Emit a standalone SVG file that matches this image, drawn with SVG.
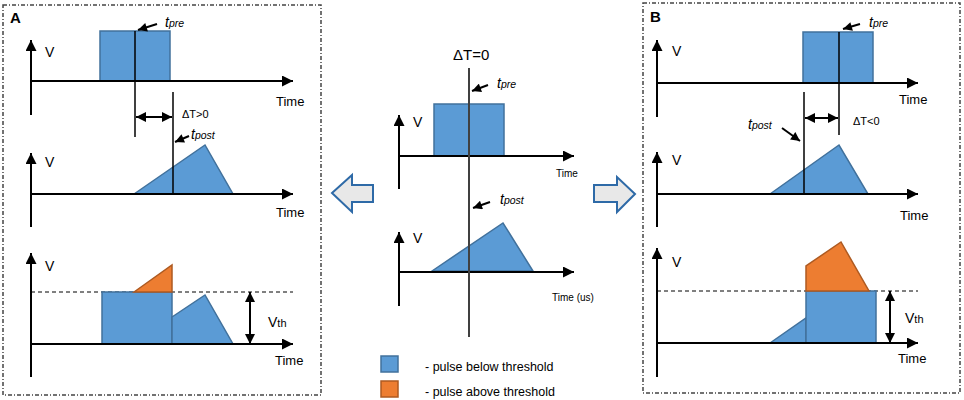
<svg xmlns="http://www.w3.org/2000/svg" width="964" height="400" viewBox="0 0 964 400">
<style>
text{font-family:"Liberation Sans",Arial,sans-serif;fill:#000}
.lbl{font-size:14px}
.time{font-size:13px}
.stime{font-size:10px}
.dt{font-size:11px}
.big{font-size:15px}
.pan{font-size:15px;font-weight:bold}
.it{font-style:italic;font-size:14px}
.sub{font-size:10.5px}
.leg{font-size:12.5px}
.ax{stroke:#000;stroke-width:2;fill:none;marker-end:url(#ah)}
.vl{stroke:#000;stroke-width:1.5}
.cl{stroke:#404040;stroke-width:2}
.da{stroke:#000;stroke-width:2;marker-start:url(#ahs);marker-end:url(#ahs)}
.pt{stroke:#000;stroke-width:2;marker-end:url(#ahp)}
.dash{stroke:#000;stroke-width:1;stroke-dasharray:4,3}
.blue{fill:#5b9bd5;stroke:#41719c;stroke-width:1.5}
.orange{fill:#ed7d31;stroke:#ae5a21;stroke-width:1.5}
.box{fill:none;stroke:#444;stroke-width:1.5;stroke-dasharray:4,2,1,2}
.bigarrow{fill:#e8e8e8;stroke:#2e6aa7;stroke-width:2}
</style>
<defs>
<marker id="ah" viewBox="0 0 10 10" refX="10" refY="5" markerWidth="11" markerHeight="11" markerUnits="userSpaceOnUse" orient="auto-start-reverse"><path d="M0,0 L10,5 L0,10 z" fill="#000"/></marker>
<marker id="ahs" viewBox="0 0 10 10" refX="10" refY="5" markerWidth="10" markerHeight="10" markerUnits="userSpaceOnUse" orient="auto-start-reverse"><path d="M0,0 L10,5 L0,10 z" fill="#000"/></marker>
<marker id="ahp" viewBox="0 0 10 10" refX="10" refY="5" markerWidth="10" markerHeight="9" markerUnits="userSpaceOnUse" orient="auto"><path d="M0,0 L10,5 L0,10 z" fill="#000"/></marker>
</defs>

<rect class="box" x="3" y="5" width="318" height="390"/>
<rect class="box" x="643" y="3" width="317" height="390"/>

<!-- Panel A -->
<g id="panelA">
<text class="pan" x="10" y="23">A</text>
<g id="A-top">
<rect class="blue" x="100" y="31" width="70" height="50"/>
<line class="ax" x1="31" y1="115" x2="31" y2="40"/>
<line class="ax" x1="31" y1="81" x2="293" y2="81"/>
<text class="lbl" x="45" y="57">V</text>
<text class="time" x="276" y="106">Time</text>
<line class="vl" x1="135" y1="31" x2="135" y2="137"/>
<text x="165" y="27"><tspan class="it">t</tspan><tspan class="it sub">pre</tspan></text>
</g>
<g id="A-mid">
<polygon class="blue" points="134,194 205,145 233,194"/>
<line class="ax" x1="31" y1="227" x2="31" y2="153"/>
<line class="ax" x1="31" y1="194" x2="293" y2="194"/>
<text class="lbl" x="45" y="167">V</text>
<text class="time" x="276" y="217">Time</text>
<line class="vl" x1="173" y1="92" x2="173" y2="194"/>
<text class="dt" x="182" y="118">ΔT&gt;0</text>
<text x="191" y="139"><tspan class="it">t</tspan><tspan class="it sub">post</tspan></text>
</g>
<g id="A-bot">
<line class="dash" x1="31" y1="292" x2="293" y2="292"/>
<rect class="blue" x="102" y="292" width="70" height="52"/>
<polygon class="orange" points="134,292 172,265 172,292"/>
<polygon class="blue" points="172,317 205,295 233,344 172,344"/>
<line class="ax" x1="31" y1="377" x2="31" y2="253"/>
<line class="ax" x1="31" y1="344" x2="293" y2="344"/>
<text class="lbl" x="45" y="271">V</text>
<text x="268" y="327"><tspan class="lbl">V</tspan><tspan font-size="11">th</tspan></text>
<text class="time" x="275" y="365">Time</text>
</g>
</g>

<!-- Center -->
<g id="center">
<text class="big" x="453" y="60">ΔT=0</text>
<g id="C-top">
<rect class="blue" x="434" y="104" width="70" height="52"/>
<line class="ax" x1="399" y1="189" x2="399" y2="115"/>
<line class="ax" x1="399" y1="156" x2="574" y2="156"/>
<text class="lbl" x="413" y="127">V</text>
<text class="stime" x="556" y="177">Time</text>
<text x="497" y="88"><tspan class="it">t</tspan><tspan class="it sub">pre</tspan></text>
</g>
<g id="C-bot">
<polygon class="blue" points="432,271 503,223 533,271"/>
<line class="ax" x1="399" y1="306" x2="399" y2="232"/>
<line class="ax" x1="399" y1="272" x2="574" y2="272"/>
<text class="lbl" x="413" y="243">V</text>
<text class="stime" x="552" y="301">Time (us)</text>
<text x="500" y="204"><tspan class="it">t</tspan><tspan class="it sub">post</tspan></text>
</g>
<line class="cl" x1="469" y1="68" x2="469" y2="337"/>
<g id="legend">
<rect x="381" y="356" width="17" height="16" fill="#5b9bd5" stroke="#41719c" stroke-width="1.5"/>
<rect x="381" y="381" width="17" height="16" fill="#ed7d31" stroke="#ae5a21" stroke-width="1.5"/>
<text class="leg" x="425" y="371">- pulse below threshold</text>
<text class="leg" x="425" y="396">- pulse above threshold</text>
</g>
</g>

<!-- Panel B -->
<g id="panelB">
<text class="pan" x="650" y="22">B</text>
<g id="B-top">
<rect class="blue" x="803" y="32" width="70" height="51"/>
<line class="ax" x1="657" y1="117" x2="657" y2="40"/>
<line class="ax" x1="657" y1="83" x2="918" y2="83"/>
<text class="lbl" x="672" y="56">V</text>
<text class="time" x="899" y="104">Time</text>
<line class="vl" x1="839" y1="32" x2="839" y2="135"/>
<text x="869" y="27"><tspan class="it">t</tspan><tspan class="it sub">pre</tspan></text>
</g>
<g id="B-mid">
<polygon class="blue" points="770,194 839,145 868,194"/>
<line class="ax" x1="657" y1="227" x2="657" y2="152"/>
<line class="ax" x1="657" y1="194" x2="918" y2="194"/>
<text class="lbl" x="672" y="165">V</text>
<text class="time" x="900" y="220">Time</text>
<line class="vl" x1="804" y1="92" x2="804" y2="194"/>
<text class="dt" x="853" y="125">ΔT&lt;0</text>
<text x="748" y="129"><tspan class="it">t</tspan><tspan class="it sub">post</tspan></text>
</g>
<g id="B-bot">
<line class="dash" x1="657" y1="291" x2="918" y2="291"/>
<polygon class="blue" points="770,343 806,318 806,343"/>
<rect class="blue" x="806" y="291" width="70" height="52"/>
<polygon class="orange" points="806,291 806,266 841,242 869,291"/>
<line class="ax" x1="657" y1="377" x2="657" y2="248"/>
<line class="ax" x1="657" y1="343" x2="918" y2="343"/>
<text class="lbl" x="672" y="267">V</text>
<text x="905" y="323"><tspan class="lbl">V</tspan><tspan font-size="11">th</tspan></text>
<text class="time" x="898" y="363">Time</text>
</g>
</g>

<!-- big arrows -->
<g id="arrow-left"><polygon class="bigarrow" points="332,193 352,175 352,185 373,185 373,202 352,202 352,212"/></g>
<g id="arrow-right"><polygon class="bigarrow" points="635,194 617,177 617,185 594,185 594,202 617,202 617,212"/></g>

<!-- connectors -->
<g id="connectors">
<line class="da" x1="136" y1="117" x2="172" y2="117"/>
<line class="da" x1="250" y1="292" x2="250" y2="344"/>
<line class="da" x1="805" y1="118" x2="838" y2="118"/>
<line class="da" x1="890" y1="291" x2="890" y2="343"/>
<line class="pt" x1="157" y1="24" x2="138" y2="30"/>
<line class="pt" x1="189" y1="136" x2="175" y2="142"/>
<line class="pt" x1="488" y1="85" x2="472" y2="91"/>
<line class="pt" x1="490" y1="202" x2="473" y2="208"/>
<line class="pt" x1="860" y1="24" x2="843" y2="29"/>
<line class="pt" x1="782" y1="128" x2="800" y2="141"/>
</g>
</svg>
